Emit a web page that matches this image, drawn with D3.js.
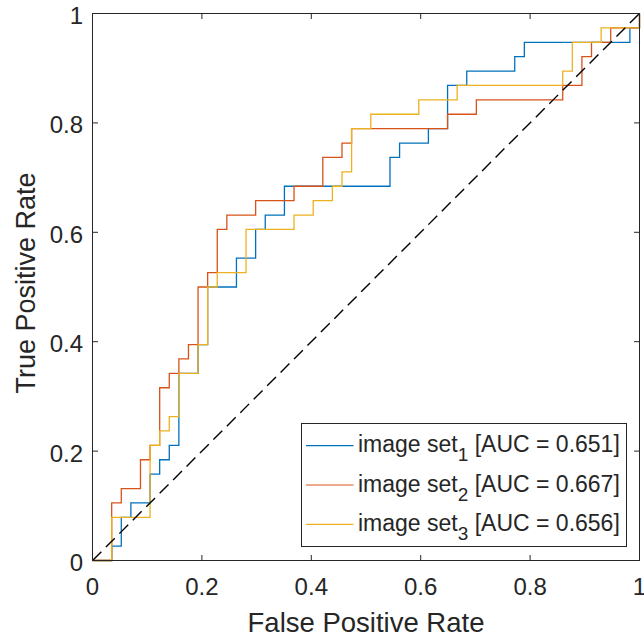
<!DOCTYPE html>
<html>
<head>
<meta charset="utf-8">
<script src="https://cdn.jsdelivr.net/npm/d3@7"></script>
<style>
  body { margin: 0; background: #fff; }
  text { font-family: "Liberation Sans", Arial, Helvetica, sans-serif; fill: #262626; }
</style>
</head>
<body>
<div id="chart"></div>
<script>
// ROC step corners: false positives / true positives counted at each rise
const nNeg = 57;
const nPos = 38;

const set1Fp = [0, 2, 3, 4, 6, 7, 8, 9, 11, 12, 15, 17, 18, 20, 31, 32, 35, 37, 39, 44, 45, 56, 57];
const set1Tp = [0, 1, 3, 4, 6, 7, 8, 13, 15, 19, 21, 23, 24, 26, 28, 29, 30, 33, 34, 35, 36, 37, 38];

const set2Fp = [0, 2, 3, 5, 6, 7, 8, 9, 10, 11, 12, 13, 14, 17, 21, 24, 26, 27, 37, 40, 49, 51, 52, 54, 57];
const set2Tp = [0, 4, 5, 7, 8, 12, 13, 14, 15, 19, 20, 23, 24, 25, 26, 28, 29, 30, 31, 32, 33, 35, 36, 37, 38];

const set3Fp = [0, 2, 6, 7, 8, 9, 11, 12, 13, 16, 21, 23, 25, 26, 27, 29, 34, 38, 49, 50, 53, 57];
const set3Tp = [0, 3, 8, 9, 10, 13, 15, 19, 20, 23, 24, 25, 26, 27, 30, 31, 32, 33, 34, 36, 37, 38];

const seriesNames = ["1", "2", "3"];
const aucLabels = ["0.651", "0.667", "0.656"];
const tickValues = [0, 0.2, 0.4, 0.6, 0.8, 1];
const tickLabels = ["0", "0.2", "0.4", "0.6", "0.8", "1"];

const colors = ["#0072BD", "#D95319", "#EDB120"];
const W = 644, H = 638;

const svg = d3.select("#chart").append("svg")
    .attr("width", W)
    .attr("height", H);

const x = d3.scaleLinear().domain([0, 1]).range([92.5, 639.5]);
const y = d3.scaleLinear().domain([0, 1]).range([560.5, 13.5]);

const series = [
    { fp: set1Fp, tp: set1Tp },
    { fp: set2Fp, tp: set2Tp },
    { fp: set3Fp, tp: set3Tp }
].map((s, i) => ({
    name: seriesNames[i],
    auc: aucLabels[i],
    color: colors[i],
    points: s.fp.map((f, k) => [f / nNeg, s.tp[k] / nPos])
}));

// step: move right first, then up
const line = d3.line()
    .x(d => x(d[0]))
    .y(d => y(d[1]))
    .curve(d3.curveStepAfter);

svg.append("g")
    .selectAll("path")
    .data(series)
    .join("path")
    .attr("d", d => line(d.points))
    .attr("fill", "none")
    .attr("stroke", d => d.color)
    .attr("stroke-width", 1.3);

// chance diagonal
svg.append("line")
    .attr("x1", x(0)).attr("y1", y(0))
    .attr("x2", x(1)).attr("y2", y(1))
    .attr("stroke", "#000")
    .attr("stroke-width", 1.4)
    .attr("stroke-dasharray", "12.5,6.5");

// box with inward ticks on all four sides
const axisColor = "#262626";
svg.append("rect")
    .attr("x", x(0)).attr("y", y(1))
    .attr("width", x(1) - x(0)).attr("height", y(0) - y(1))
    .attr("fill", "none")
    .attr("stroke", axisColor)
    .attr("stroke-width", 1);

const tickLen = 5.5;
const ticks = svg.append("g").attr("stroke", axisColor).attr("stroke-width", 1);
tickValues.forEach(v => {
    ticks.append("line").attr("x1", x(v)).attr("x2", x(v)).attr("y1", y(0)).attr("y2", y(0) - tickLen);
    ticks.append("line").attr("x1", x(v)).attr("x2", x(v)).attr("y1", y(1)).attr("y2", y(1) + tickLen);
    ticks.append("line").attr("y1", y(v)).attr("y2", y(v)).attr("x1", x(0)).attr("x2", x(0) + tickLen);
    ticks.append("line").attr("y1", y(v)).attr("y2", y(v)).attr("x1", x(1)).attr("x2", x(1) - tickLen);
});

svg.append("g")
    .selectAll("text")
    .data(tickValues)
    .join("text")
    .attr("x", d => x(d))
    .attr("y", 595)
    .attr("text-anchor", "middle")
    .attr("font-size", 24)
    .text((d, i) => tickLabels[i]);

svg.append("g")
    .selectAll("text")
    .data(tickValues)
    .join("text")
    .attr("x", 83)
    .attr("y", d => y(d) + 10.5)
    .attr("text-anchor", "end")
    .attr("font-size", 24)
    .text((d, i) => tickLabels[i]);

// axis titles
svg.append("text")
    .attr("x", 366)
    .attr("y", 631.5)
    .attr("text-anchor", "middle")
    .attr("font-size", 27.5)
    .text("False Positive Rate");

svg.append("text")
    .attr("transform", "translate(35,283) rotate(-90)")
    .attr("text-anchor", "middle")
    .attr("font-size", 27)
    .text("True Positive Rate");

// legend
const legend = svg.append("g");
legend.append("rect")
    .attr("x", 301.5).attr("y", 423.5)
    .attr("width", 325).attr("height", 123)
    .attr("fill", "#fff")
    .attr("stroke", axisColor)
    .attr("stroke-width", 1);

const rows = legend.selectAll("g.row")
    .data(series)
    .join("g")
    .attr("class", "row")
    .attr("transform", (d, i) => `translate(0,${445.7 + i * 39.3})`);

rows.append("line")
    .attr("x1", 306).attr("x2", 353.5)
    .attr("stroke", d => d.color)
    .attr("stroke-width", 1.2);

const label = rows.append("text")
    .attr("x", 358)
    .attr("y", 6.5)
    .attr("font-size", 23);
label.append("tspan").text("image set");
label.append("tspan").attr("font-size", 19).attr("dy", 9).text(d => d.name);
label.append("tspan").attr("dy", -9).text(d => ` [AUC = ${d.auc}]`);
</script>
</body>
</html>
